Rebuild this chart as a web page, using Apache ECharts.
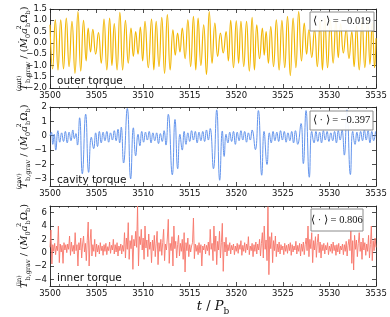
<!DOCTYPE html>
<html><head><meta charset="utf-8">
<script src="https://cdn.jsdelivr.net/npm/echarts@6/dist/echarts.min.js"></script>
<style>html,body{margin:0;padding:0;background:#fff}#c{width:390px;height:317px}</style>
</head><body><div id="c"></div>
<script>
// ---------- data ----------
const xMin = 3500, xMax = 3535;
const panelNames = ['outer torque', 'cavity torque', 'inner torque'];
const supTags = ['(out)', '(cav)', '(in)'];
const meanTexts = ['\u27E8 \u00B7 \u27E9 = \u22120.019', '\u27E8 \u00B7 \u27E9 = \u22120.397', '\u27E8 \u00B7 \u27E9 = 0.806'];
const yTicks2 = [-3, -2, -1, 0, 1, 2];
const yTicks3 = [-4, -2, 0, 2, 4, 6];

// outer torque: extrema (time, value)
const outerT = [3500.00,3500.28,3500.57,3500.86,3501.15,3501.45,3501.75,3502.05,3502.36,3502.68,
3503.00,3503.30,3503.60,3503.88,3504.10,3504.35,3504.60,3504.90,3505.20,3505.50,
3505.80,3506.10,3506.40,3506.65,3506.90,3507.20,3507.50,3507.80,3508.10,3508.40,
3508.70,3508.95,3509.20,3509.45,3509.70,3509.95,3510.20,3510.55,3510.90,3511.15,
3511.40,3511.70,3512.00,3512.30,3512.60,3512.90,3513.20,3513.45,3513.70,3513.95,
3514.20,3514.50,3514.80,3515.10,3515.40,3515.65,3515.90,3516.20,3516.50,3516.80,
3517.10,3517.40,3517.70,3518.00,3518.30,3518.60,3518.90,3519.15,3519.40,3519.70,
3520.00,3520.25,3520.50,3520.80,3521.10,3521.40,3521.70,3521.95,3522.20,3522.50,
3522.80,3523.00,3523.20,3523.45,3523.70,3524.00,3524.30,3524.60,3524.90,3525.20,
3525.50,3525.80,3526.10,3526.40,3526.70,3527.00,3527.30,3527.55,3527.80,3528.10,
3528.40,3528.70,3529.00,3529.25,3529.50,3529.80,3530.10,3530.40,3530.70,3530.95,
3531.20,3531.50,3531.80,3532.10,3532.40,3532.65,3532.90,3533.20,3533.50,3533.80,
3534.10,3534.35,3534.60,3534.85,3535.00];
const outerV = [0.8,-1.15,1.02,-1.2,1.02,-1.15,1.1,-1.05,0.95,-1.35,
1.39,-1.25,1.0,-0.8,0.65,-0.4,0.6,-0.5,0.45,-0.9,
1.05,-1.2,1.1,-1.0,0.85,-1.2,1.35,-1.2,1.0,-0.9,
0.65,-0.6,0.5,-0.5,0.7,-0.8,0.95,-1.1,1.05,-1.2,
0.95,-1.05,1.13,-1.35,1.25,-1.2,0.58,-0.55,0.43,-0.4,
0.65,-0.7,1.02,-1.05,1.17,-1.2,1.1,-1.0,0.8,-1.4,
1.39,-0.9,0.87,-0.6,0.43,-0.45,0.5,-0.8,1.0,-1.1,
0.98,-0.9,0.95,-1.05,0.95,-1.25,1.13,-1.2,0.8,-0.7,
0.65,-0.55,0.5,-0.9,0.72,-1.05,1.02,-1.2,1.0,-1.1,
1.17,-1.45,1.1,-1.1,1.39,-0.8,0.87,-0.5,0.58,-0.65,
0.6,-1.05,1.0,-1.2,1.1,-1.1,1.0,-0.9,1.0,-0.65,
0.85,-0.45,0.6,-0.7,0.5,-1.05,0.75,-1.2,1.0,-1.1,
1.0,-0.95,0.9,-1.1,0.2];

// cavity torque: extrema (time, value)
const cavT = [3500.00,3500.15,3500.30,3500.45,3500.62,3500.85,3501.05,3501.25,3501.45,3501.65,
3501.85,3502.05,3502.25,3502.45,3502.62,3502.78,3502.95,3503.18,3503.47,3503.83,
3504.15,3504.44,3504.69,3504.90,3505.10,3505.30,3505.50,3505.70,3505.90,3506.10,
3506.30,3506.50,3506.70,3506.90,3507.10,3507.30,3507.48,3507.65,3507.90,3508.30,
3508.66,3508.95,3509.20,3509.45,3509.65,3509.85,3510.05,3510.25,3510.45,3510.65,
3510.85,3511.05,3511.25,3511.45,3511.65,3511.85,3512.05,3512.25,3512.45,3512.70,
3513.13,3513.42,3513.71,3513.95,3514.20,3514.40,3514.60,3514.80,3515.00,3515.20,
3515.40,3515.60,3515.80,3516.00,3516.20,3516.40,3516.60,3516.80,3517.00,3517.20,
3517.55,3517.90,3518.22,3518.50,3518.70,3518.90,3519.10,3519.30,3519.50,3519.70,
3519.90,3520.10,3520.30,3520.50,3520.70,3520.90,3521.10,3521.30,3521.50,3521.70,
3522.05,3522.37,3522.73,3522.98,3523.30,3523.55,3523.75,3523.95,3524.15,3524.35,
3524.55,3524.75,3524.95,3525.15,3525.35,3525.55,3525.75,3525.95,3526.15,3526.35,
3526.60,3526.95,3527.20,3527.49,3527.84,3528.10,3528.35,3528.55,3528.75,3528.95,
3529.15,3529.35,3529.55,3529.75,3529.95,3530.15,3530.35,3530.55,3530.75,3530.95,
3531.15,3531.35,3531.60,3531.88,3532.25,3532.50,3532.75,3532.95,3533.15,3533.35,
3533.55,3533.75,3533.95,3534.15,3534.35,3534.55,3534.75,3534.95];
const cavV = [0.0,0.25,-0.6,0.1,-1.0,0.35,-0.45,0.2,-0.4,0.3,
-0.5,0.25,-0.35,0.4,-0.2,0.15,-0.65,1.25,-2.65,1.5,
-2.55,-0.1,-0.9,0.2,-0.75,0.3,-0.5,0.25,-0.35,0.3,
-0.45,0.2,-0.3,0.35,-0.35,0.45,-0.5,0.6,-1.9,1.9,
-3.0,0.55,-1.4,0.1,-0.7,0.3,-0.45,0.25,-0.3,0.3,
-0.5,0.2,-0.35,0.2,-0.55,0.15,-0.4,0.35,-0.65,1.49,
-2.72,1.13,-2.3,0.1,-1.0,0.3,-0.6,0.2,-0.4,0.35,
-0.3,0.3,-0.5,0.25,-0.35,0.3,-0.4,0.4,-0.3,0.5,
-2.3,1.8,-3.1,0.33,-1.44,0.1,-0.5,0.25,-0.4,0.3,
-0.6,0.25,-0.35,0.35,-0.3,0.3,-0.45,0.2,-0.3,0.4,
-0.97,1.75,-2.75,0.3,-2.0,0.2,-0.5,0.3,-0.35,0.25,
-0.4,0.35,-0.3,0.3,-0.45,0.2,-0.35,0.3,-0.5,0.35,
-0.6,0.85,-1.94,1.75,-2.89,0.3,-0.5,0.3,-0.4,0.25,
-0.5,0.35,-0.3,0.3,-0.4,0.2,-0.35,0.3,-0.5,0.35,
-0.3,0.4,-1.35,1.8,-2.7,0.3,-0.6,0.25,-0.4,0.3,
-0.35,0.4,-0.3,0.35,-0.5,0.3,-0.35,0.3];

// inner torque: sampled every 0.1 from 3500
const innerStart = 3500, innerStep = 0.1;
const innerV = [
0.8,3.4,-1.7,1.2,0.2,1.4,-0.3,1.0,0.3,4.0,
-1.5,1.3,0.1,1.1,-1.6,1.5,0.4,1.2,0.0,1.3,
0.5,2.5,-0.4,1.6,0.2,1.1,-0.2,3.0,0.3,1.2,
-2.0,1.5,0.4,2.2,-0.8,1.3,2.5,0.1,1.4,-1.2,
1.8,4.6,-2.0,1.6,3.5,-0.5,1.2,0.2,2.0,-0.6,
1.3,0.1,1.1,-0.2,1.5,0.3,1.0,-0.4,1.2,0.2,
1.4,-0.3,0.9,0.3,1.6,-0.1,1.1,0.4,2.0,-0.2,
1.2,0.1,1.5,-0.5,1.0,0.3,1.3,-0.2,1.1,0.2,
3.0,-0.8,2.2,0.5,4.5,-1.0,1.8,0.6,2.6,-2.5,
2.0,1.0,3.2,0.8,7.0,-2.0,2.4,1.2,3.5,0.4,
2.2,-1.0,4.0,0.7,1.9,-0.6,2.8,0.5,1.6,-1.5,
1.9,0.3,2.6,-0.6,1.4,3.2,-1.8,1.5,0.2,2.0,
-0.4,1.5,3.5,-1.2,1.3,0.4,2.2,5.0,-1.6,1.4,
0.3,2.4,-2.0,4.0,0.6,1.7,-0.8,1.2,2.6,-0.5,
1.4,0.2,2.0,-1.0,3.0,-2.9,1.5,0.3,2.2,-0.6,
1.2,0.1,1.0,1.5,5.2,-0.9,1.3,0.2,1.1,-0.3,
1.5,0.0,1.2,-2.0,1.0,0.4,1.3,-0.2,1.1,0.3,
1.6,-0.4,3.5,0.5,1.4,-1.2,4.0,0.2,2.5,-1.8,
1.7,0.4,3.2,-0.8,1.5,4.4,-2.8,1.6,0.1,2.3,
-0.5,1.2,0.3,1.5,-0.2,1.1,0.4,1.3,-0.3,1.0,
0.2,1.4,-0.1,1.2,0.5,1.8,-0.4,1.1,0.2,1.5,
0.0,1.3,0.4,2.4,-0.3,1.0,0.3,1.4,-0.6,1.2,
0.2,1.6,-0.2,1.3,0.4,2.0,-0.5,1.4,3.0,-0.8,
4.0,0.5,1.9,-1.2,6.9,-3.3,2.4,0.6,3.0,-1.5,
1.8,0.3,2.5,-0.6,1.3,0.1,1.6,-0.2,1.2,0.4,
1.0,-0.3,1.4,0.2,1.1,-0.1,1.3,0.3,1.5,-0.4,
1.2,0.1,1.0,0.4,1.7,-0.2,1.1,0.2,1.4,-0.5,
1.3,0.2,1.6,-0.3,1.2,2.2,0.3,4.0,-0.6,2.0,
0.6,3.0,-1.5,1.8,0.4,2.4,-0.7,1.5,2.8,0.0,
1.6,-0.8,1.2,0.3,1.4,-0.2,1.1,0.4,1.5,-0.3,
1.0,0.2,1.3,-0.1,1.6,0.3,1.1,-0.4,1.2,0.1,
1.4,-0.2,1.0,0.4,1.3,-0.3,1.2,0.2,1.7,-0.5,
1.1,2.0,0.3,3.5,-1.6,1.8,-2.6,2.6,0.5,1.9,
-0.6,1.4,3.0,0.2,1.6,-1.0,2.2,0.4,1.5,-0.4,
1.3,0.2,2.6,-0.8,1.2,4.0,-1.2,1.8,0.3,2.2,
0.8];

// ---------- chart ----------
const pair = (ts, vs) => ts.slice(0, Math.min(ts.length, vs.length)).map((t, i) => [t, vs[i]]);
const outerData = pair(outerT, outerV);
const cavData = pair(cavT, cavV);
const innerData = innerV.map((v, i) => [+(innerStart + i * innerStep).toFixed(2), v]);

const AX = '#222';
const grids = [
  {left: 50, width: 326, top: 9, height: 79},
  {left: 50, width: 326, top: 107, height: 79},
  {left: 50, width: 326, top: 206, height: 80}
];
const minus = s => String(s).replace('-', '\u2212');

const rich = {
  it: {fontFamily: 'DejaVu Serif', fontStyle: 'italic', fontSize: 10, lineHeight: 16, color: '#111'},
  m: {fontFamily: 'DejaVu Serif', fontSize: 10, lineHeight: 16, color: '#111'},
  sub: {fontFamily: 'DejaVu Serif', fontSize: 6.5, lineHeight: 8, verticalAlign: 'bottom', color: '#111'},
  sup: {fontFamily: 'DejaVu Serif', fontSize: 6.5, lineHeight: 8, verticalAlign: 'top', color: '#111', width: 1}
};
const yName = tag => '{it|T}{sup|' + tag + '}{sub|b,grav}{m| / (}{it|\u1E40}{sub|0}{it|a}{sup|2}{sub|b}{m|\u03A9}{sub|b}{m|)}';

const xAxes = [], yAxes = [];
for (let g = 0; g < 3; g++) {
  const tick = {show: true, inside: true, length: 4, lineStyle: {color: AX, width: 0.8}};
  const minor = {show: true, splitNumber: 5, length: 2, lineStyle: {color: AX, width: 0.6}};
  const base = {type: 'value', gridIndex: g, min: xMin, max: xMax, interval: 5,
    axisLine: {show: true, onZero: false, lineStyle: {color: AX, width: 0.9}},
    splitLine: {show: false}, minorSplitLine: {show: false}, axisTick: tick, minorTick: minor};
  const bottom = Object.assign({}, base, {position: 'bottom',
    axisLabel: {show: true, fontFamily: 'DejaVu Sans', fontSize: 8.5, color: '#111', margin: 3,
      formatter: v => String(v), showMinLabel: true, showMaxLabel: true}});
  if (g === 2) {
    bottom.name = '{it|t}{m| / }{it|P}{sub|b}';
    bottom.nameLocation = 'middle';
    bottom.nameGap = 12;
    bottom.nameMoveOverlap = false;
    bottom.nameTextStyle = {rich: {
      it: {fontFamily: 'DejaVu Serif', fontStyle: 'italic', fontSize: 13, lineHeight: 18, color: '#111'},
      m: {fontFamily: 'DejaVu Serif', fontSize: 13, lineHeight: 18, color: '#111'},
      sub: {fontFamily: 'DejaVu Serif', fontSize: 9, lineHeight: 10, verticalAlign: 'bottom', color: '#111'}
    }};
  }
  xAxes.push(bottom);
  xAxes.push(Object.assign({}, base, {position: 'top', axisLabel: {show: false}}));

  let yb;
  if (g === 0) {
    yb = {min: -2, max: 1.5, interval: 0.5, fmt: v => minus(v.toFixed(1))};
  } else if (g === 1) {
    yb = {min: -3.5, max: 2, custom: yTicks2, fmt: v => minus(v)};
  } else {
    yb = {min: -5, max: 7, custom: yTicks3, fmt: v => minus(v)};
  }
  const ytick = {show: true, inside: true, length: 4, lineStyle: {color: AX, width: 0.8}};
  if (yb.custom) ytick.customValues = yb.custom;
  const ybase = {type: 'value', gridIndex: g, min: yb.min, max: yb.max,
    axisLine: {show: true, onZero: false, lineStyle: {color: AX, width: 0.9}},
    splitLine: {show: false}, axisTick: ytick};
  if (yb.interval) ybase.interval = yb.interval;
  const left = Object.assign({}, ybase, {position: 'left',
    axisLabel: {show: true, fontFamily: 'DejaVu Sans', fontSize: 8.5, color: '#111', margin: 3,
      formatter: yb.fmt, showMinLabel: true, showMaxLabel: true},
    name: yName(supTags[g]), nameLocation: 'middle', nameGap: 18, nameRotate: 90,
    nameMoveOverlap: false,
    nameTextStyle: {rich: rich}});
  if (yb.custom) left.axisLabel.customValues = yb.custom;
  yAxes.push(left);
  yAxes.push(Object.assign({}, ybase, {position: 'right', axisLabel: {show: false}}));
}

const series = [
  {type: 'line', xAxisIndex: 0, yAxisIndex: 0, data: outerData, smooth: 0.5, showSymbol: false, symbol: 'none',
    lineStyle: {color: '#F2B705', width: 1.2}, itemStyle: {color: '#F2B705'}, z: 2},
  {type: 'line', xAxisIndex: 2, yAxisIndex: 2, data: cavData, smooth: 0.5, showSymbol: false, symbol: 'none',
    lineStyle: {color: '#6495ED', width: 1.0}, itemStyle: {color: '#6495ED'}, z: 2},
  {type: 'line', xAxisIndex: 4, yAxisIndex: 4, data: innerData, showSymbol: false, symbol: 'none',
    lineStyle: {color: '#F7766A', width: 0.9}, itemStyle: {color: '#F7766A'}, z: 2}
];

const boxes = [
  {x: 310, y: 12, w: 64, h: 19},
  {x: 310, y: 111, w: 63, h: 19},
  {x: 311, y: 209, w: 52, h: 22}
];
const labelPos = [{x: 57, y: 81}, {x: 57, y: 180}, {x: 57, y: 278}];
const graphic = [];
for (let g = 0; g < 3; g++) {
  const b = boxes[g];
  graphic.push({type: 'rect', z: 100, shape: {x: b.x, y: b.y, width: b.w, height: b.h},
    style: {fill: 'rgba(255,255,255,0.92)', stroke: '#8c8c8c', lineWidth: 1}});
  graphic.push({type: 'text', z: 101, x: b.x + b.w / 2, y: b.y + b.h / 2,
    style: {text: meanTexts[g], fontFamily: 'Liberation Serif', fontSize: 10.5, fill: '#111',
      align: 'center', verticalAlign: 'middle'}});
  graphic.push({type: 'text', z: 101, x: labelPos[g].x, y: labelPos[g].y,
    style: {text: panelNames[g], fontFamily: 'DejaVu Sans', fontSize: 10.5, fill: '#111',
      align: 'left', verticalAlign: 'middle'}});
}

const chart = echarts.init(document.getElementById('c'), null, {renderer: 'canvas'});
chart.setOption({
  animation: false,
  backgroundColor: '#fff',
  grid: grids.map(g => Object.assign({outerBoundsMode: 'none', containLabel: false}, g)),
  xAxis: xAxes,
  yAxis: yAxes,
  series: series,
  graphic: graphic
});
</script>
</body></html>
